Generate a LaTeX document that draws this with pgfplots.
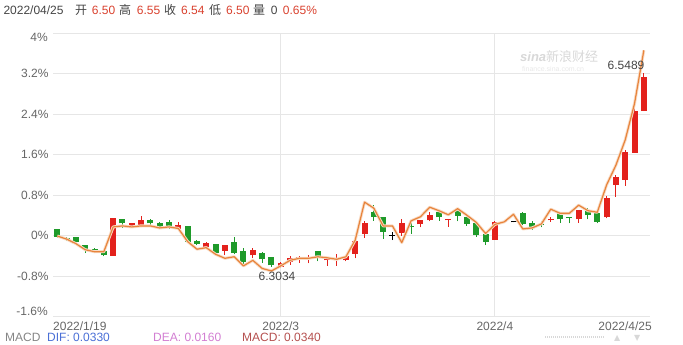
\documentclass[border=0pt]{standalone}
\usepackage{fontspec}
\setmainfont{Liberation Sans}
\newfontfamily\cjk{Noto Sans CJK SC}
\newfontfamily\dejavu{DejaVu Sans}
\usepackage{pgfplots}
\usepackage{pgfplotstable}
\pgfplotsset{compat=1.18}

\definecolor{cred}{HTML}{E3211C}
\definecolor{cgreen}{HTML}{1E9A2A}
\definecolor{corange}{HTML}{E8843C}
\definecolor{chalo}{HTML}{F8DCC6}
\definecolor{cgrid}{HTML}{E6E6E6}
\definecolor{ctick}{HTML}{666666}
\definecolor{chead}{HTML}{444444}
\definecolor{cval}{HTML}{D9412E}
\definecolor{cdif}{HTML}{4A6FD6}
\definecolor{cdea}{HTML}{D27ED2}
\definecolor{cmacd}{HTML}{B5504F}
\definecolor{cwm}{HTML}{D8D8D8}

% red candles: x open high low close
\pgfplotstableread{
x o h l c
6 -0.40 0.35 -0.40 0.34
8 0.17 0.25 0.16 0.24
9 0.17 0.38 0.16 0.31
13 0.13 0.26 0.11 0.21
16 -0.23 -0.13 -0.24 -0.14
18 -0.30 -0.18 -0.39 -0.19
21 -0.39 -0.25 -0.45 -0.28
24 -0.62 -0.53 -0.64 -0.54
25 -0.53 -0.40 -0.58 -0.44
26 -0.47 -0.40 -0.54 -0.42
27 -0.46 -0.39 -0.55 -0.42
29 -0.49 -0.43 -0.60 -0.44
30 -0.49 -0.37 -0.60 -0.45
31 -0.49 -0.41 -0.51 -0.41
32 -0.36 -0.11 -0.45 -0.11
33 0.03 0.29 -0.04 0.24
37 0.05 0.32 -0.01 0.25
39 0.22 0.31 0.16 0.31
40 0.30 0.46 0.28 0.40
42 0.30 0.33 0.17 0.32
47 -0.08 0.28 -0.08 0.26
48 0.26 0.29 0.25 0.28
53 0.30 0.36 0.27 0.32
56 0.32 0.51 0.25 0.50
59 0.36 0.79 0.34 0.75
60 1.00 1.20 0.77 1.16
61 1.10 1.69 0.98 1.66
62 1.64 2.53 1.64 2.46
63 2.46 3.22 2.46 3.13
}\redtab

% green candles: x open high low close
\pgfplotstableread{
x o h l c
0 0.12 0.13 -0.04 -0.02
1 -0.04 -0.02 -0.11 -0.09
2 -0.02 -0.02 -0.16 -0.12
3 -0.18 -0.18 -0.35 -0.26
4 -0.26 -0.24 -0.35 -0.33
5 -0.30 -0.30 -0.41 -0.39
7 0.32 0.32 0.15 0.24
10 0.30 0.32 0.21 0.24
11 0.24 0.26 0.12 0.13
12 0.26 0.31 0.13 0.14
14 0.19 0.19 -0.13 -0.12
15 -0.11 -0.09 -0.19 -0.16
17 -0.16 -0.16 -0.35 -0.34
19 -0.12 -0.02 -0.37 -0.35
20 -0.30 -0.25 -0.56 -0.52
22 -0.35 -0.33 -0.54 -0.47
23 -0.43 -0.43 -0.62 -0.59
28 -0.30 -0.30 -0.51 -0.42
34 0.47 0.60 0.29 0.37
35 0.36 0.36 -0.07 0.07
38 0.19 0.27 0.04 0.16
41 0.47 0.50 0.29 0.36
43 0.50 0.54 0.28 0.39
44 0.37 0.37 0.19 0.23
45 0.25 0.25 -0.02 0.01
46 0.03 0.03 -0.19 -0.12
50 0.45 0.47 0.20 0.22
51 0.25 0.28 0.11 0.16
52 0.22 0.28 0.16 0.20
54 0.44 0.44 0.25 0.32
55 0.36 0.36 0.24 0.34
57 0.48 0.54 0.32 0.40
58 0.44 0.44 0.24 0.27
}\greentab

% flat candles: x open high low close
\pgfplotstableread{
x o h l c
36 0.00 0.07 -0.09 0.02
49 0.26 0.28 0.26 0.28
}\blacktab

\pgfplotsset{
  candle/.style n args={2}{draw=none, mark=none, forget plot,
    error bars/.cd, y dir=plus, y explicit, error mark=none,
    error bar style={draw=#1, line width=#2}},
}

\begin{document}
\begin{tikzpicture}
\useasboundingbox (0pt,0pt) rectangle (683pt,345pt);
\begin{axis}[
  at={(53pt,28.5pt)}, anchor=south west,
  scale only axis, width=597pt, height=283.4pt,
  xmin=-0.46, xmax=63.66, ymin=-1.6, ymax=4,
  axis line style={draw=none},
  tick style={draw=none},
  grid=major,
  major grid style={cgrid, line width=0.8pt},
  ytick={-1.6,-0.8,0,0.8,1.6,2.4,3.2,4},
  yticklabels={,-0.8\%,0\%,0.8\%,1.6\%,2.4\%,3.2\%,},
  xtick={24,47},
  xticklabels={2022/3,2022/4},
  tick label style={font=\fontsize{12}{12}\selectfont, text=ctick},
  yticklabel style={xshift=-1pt},
  xticklabel style={yshift=-1.5pt},
]
% wicks
\addplot[candle={cred}{1pt}]
  table[x=x, y=l, y error plus expr=\thisrow{h}-\thisrow{l}] {\redtab};
\addplot[candle={cgreen}{1pt}]
  table[x=x, y=l, y error plus expr=\thisrow{h}-\thisrow{l}] {\greentab};
\addplot[candle={black}{1pt}]
  table[x=x, y=l, y error plus expr=\thisrow{h}-\thisrow{l}] {\blacktab};
% bodies
\addplot[candle={cred}{6pt}]
  table[x=x, y=o, y error plus expr=\thisrow{c}-\thisrow{o}] {\redtab};
\addplot[candle={cgreen}{6pt}]
  table[x=x, y=c, y error plus expr=\thisrow{o}-\thisrow{c}] {\greentab};
\addplot[candle={black}{6pt}]
  table[x=x, y=o, y error plus expr=\thisrow{c}-\thisrow{o}] {\blacktab};
% line
\addplot[chalo, line width=3pt, line join=round, forget plot] coordinates {
(0,-0.01) (1,-0.07) (2,-0.16) (3,-0.28) (4,-0.32) (5,-0.32) (6,0.17) (7,0.19)
(8,0.17) (9,0.19) (10,0.19) (11,0.15) (12,0.17) (13,0.14) (14,-0.12) (15,-0.27)
(16,-0.24) (17,-0.37) (18,-0.45) (19,-0.42) (20,-0.60) (21,-0.49) (22,-0.65) (23,-0.70)
(24,-0.60) (25,-0.49) (26,-0.45) (27,-0.45) (28,-0.42) (29,-0.44) (30,-0.47) (31,-0.42)
(32,-0.09) (33,0.66) (34,0.54) (35,0.19) (36,0.19) (37,-0.14) (38,0.29) (39,0.37)
(40,0.56) (41,0.49) (42,0.41) (43,0.53) (44,0.40) (45,0.26) (46,0.04) (47,0.22)
(48,0.27) (49,0.42) (50,0.13) (51,0.15) (52,0.23) (53,0.52) (54,0.44) (55,0.44)
(56,0.60) (57,0.49) (58,0.46) (59,1.00) (60,1.39) (61,1.89) (62,2.61) (63,3.66)};
\addplot[corange, line width=1.2pt, line join=round] coordinates {
(0,-0.01) (1,-0.07) (2,-0.16) (3,-0.28) (4,-0.32) (5,-0.32) (6,0.17) (7,0.19)
(8,0.17) (9,0.19) (10,0.19) (11,0.15) (12,0.17) (13,0.14) (14,-0.12) (15,-0.27)
(16,-0.24) (17,-0.37) (18,-0.45) (19,-0.42) (20,-0.60) (21,-0.49) (22,-0.65) (23,-0.70)
(24,-0.60) (25,-0.49) (26,-0.45) (27,-0.45) (28,-0.42) (29,-0.44) (30,-0.47) (31,-0.42)
(32,-0.09) (33,0.66) (34,0.54) (35,0.19) (36,0.19) (37,-0.14) (38,0.29) (39,0.37)
(40,0.56) (41,0.49) (42,0.41) (43,0.53) (44,0.40) (45,0.26) (46,0.04) (47,0.22)
(48,0.27) (49,0.42) (50,0.13) (51,0.15) (52,0.23) (53,0.52) (54,0.44) (55,0.44)
(56,0.60) (57,0.49) (58,0.46) (59,1.00) (60,1.39) (61,1.89) (62,2.61) (63,3.66)};
\end{axis}
% header
\begin{scope}[every node/.style={inner sep=0pt, anchor=base west, font=\fontsize{12}{12}\selectfont}]
\node[text=chead] at (3.3pt,330pt) {2022/04/25};
\node[text=chead] at (75pt,330pt) {\cjk 开};
\node[text=cval] at (91.7pt,330pt) {6.50};
\node[text=chead] at (119pt,330pt) {\cjk 高};
\node[text=cval] at (136.7pt,330pt) {6.55};
\node[text=chead] at (164pt,330pt) {\cjk 收};
\node[text=cval] at (181pt,330pt) {6.54};
\node[text=chead] at (209pt,330pt) {\cjk 低};
\node[text=cval] at (226pt,330pt) {6.50};
\node[text=chead] at (253pt,330pt) {\cjk 量};
\node[text=chead] at (270.7pt,330pt) {0};
\node[text=cval] at (282.7pt,330pt) {0.65\%};
% clamped y labels
\node[text=ctick, anchor=east] at (48pt,308pt) {4\%};
\node[text=ctick, anchor=east] at (48pt,34pt) {-1.6\%};
% x edge labels
\node[text=ctick] at (53pt,14.5pt) {2022/1/19};
\node[text=ctick, anchor=base east] at (652pt,14.5pt) {2022/4/25};
% macd line
\node[text=ctick!80] at (5pt,3.5pt) {MACD};
\node[text=cdif] at (47pt,3.5pt) {DIF: 0.0330};
\node[text=cdea] at (153pt,3.5pt) {DEA: 0.0160};
\node[text=cmacd] at (242pt,3.5pt) {MACD: 0.0340};
% annotations
\node[text=chead, anchor=base] at (277pt,64pt) {6.3034};
\node[text=chead, anchor=base] at (626pt,275.5pt) {6.5489};
\node[text=cwm, font=\fontsize{13}{13}\selectfont] at (520pt,283pt) {{\bfseries\itshape sina}{\cjk 新浪财经}};
\node[text=cwm!60, font=\fontsize{7}{7}\selectfont] at (522pt,273pt) {finance.sina.com.cn};
\node[text=cwm, font=\dejavu\fontsize{8}{8}\selectfont] at (614pt,4pt) {▲};
\node[text=cwm, font=\dejavu\fontsize{8}{8}\selectfont] at (634pt,4pt) {▼};
\end{scope}
\draw[cwm, line width=2pt, dash pattern=on 1pt off 1pt] (545pt,8pt) -- (605pt,8pt);
\end{tikzpicture}
\end{document}
